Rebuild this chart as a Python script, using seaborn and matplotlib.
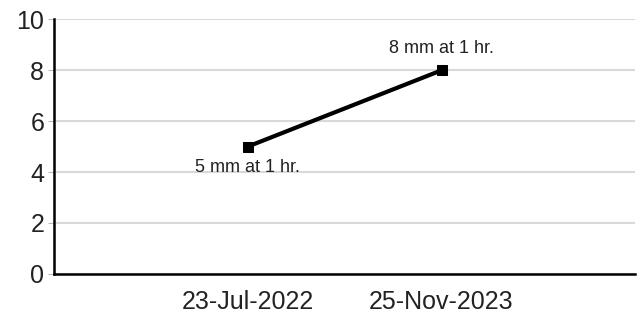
import matplotlib
matplotlib.use("Agg")
import matplotlib.pyplot as plt
import pandas as pd
import seaborn as sns

dates = ["23-Jul-2022", "25-Nov-2023"]
values = [5, 8]
labels = ["5 mm at 1 hr.", "8 mm at 1 hr."]
label_offsets = [-21, 22]  # pixels, below / above the point

sns.set_style("white")
plt.rcParams["font.family"] = ["Liberation Sans", "DejaVu Sans"]

df = pd.DataFrame({"date": dates, "value": values})

fig, ax = plt.subplots(figsize=(6.43, 3.19), dpi=100)
fig.subplots_adjust(left=0.084, right=0.988, bottom=0.142, top=0.939)

sns.lineplot(data=df, x="date", y="value", ax=ax, color="black", linewidth=3,
             marker="s", markersize=7, markeredgecolor="black", sort=False)

for i, (v, lab, off) in enumerate(zip(values, labels, label_offsets)):
    ax.annotate(lab, (i, v), xytext=(0, off), textcoords="offset pixels",
                ha="center", va="center", fontsize=13, color="#222222")

ax.set_xlim(-1, 2)
ax.set_ylim(0, 10)
ax.set_yticks(range(0, 11, 2))
ax.yaxis.grid(True, color="#d9d9d9", linewidth=1.5)
ax.set_axisbelow(True)
ax.set_xlabel("")
ax.set_ylabel("")
ax.tick_params(axis="both", labelsize=18, colors="#222222")
ax.tick_params(axis="y", length=4, color="#bbbbbb", left=True, pad=3)
ax.tick_params(axis="x", length=0, pad=12)

for side in ["top", "right"]:
    ax.spines[side].set_visible(False)
for side in ["left", "bottom"]:
    ax.spines[side].set_color("black")
    ax.spines[side].set_linewidth(1.8)

fig.savefig("out.png", dpi=100)
